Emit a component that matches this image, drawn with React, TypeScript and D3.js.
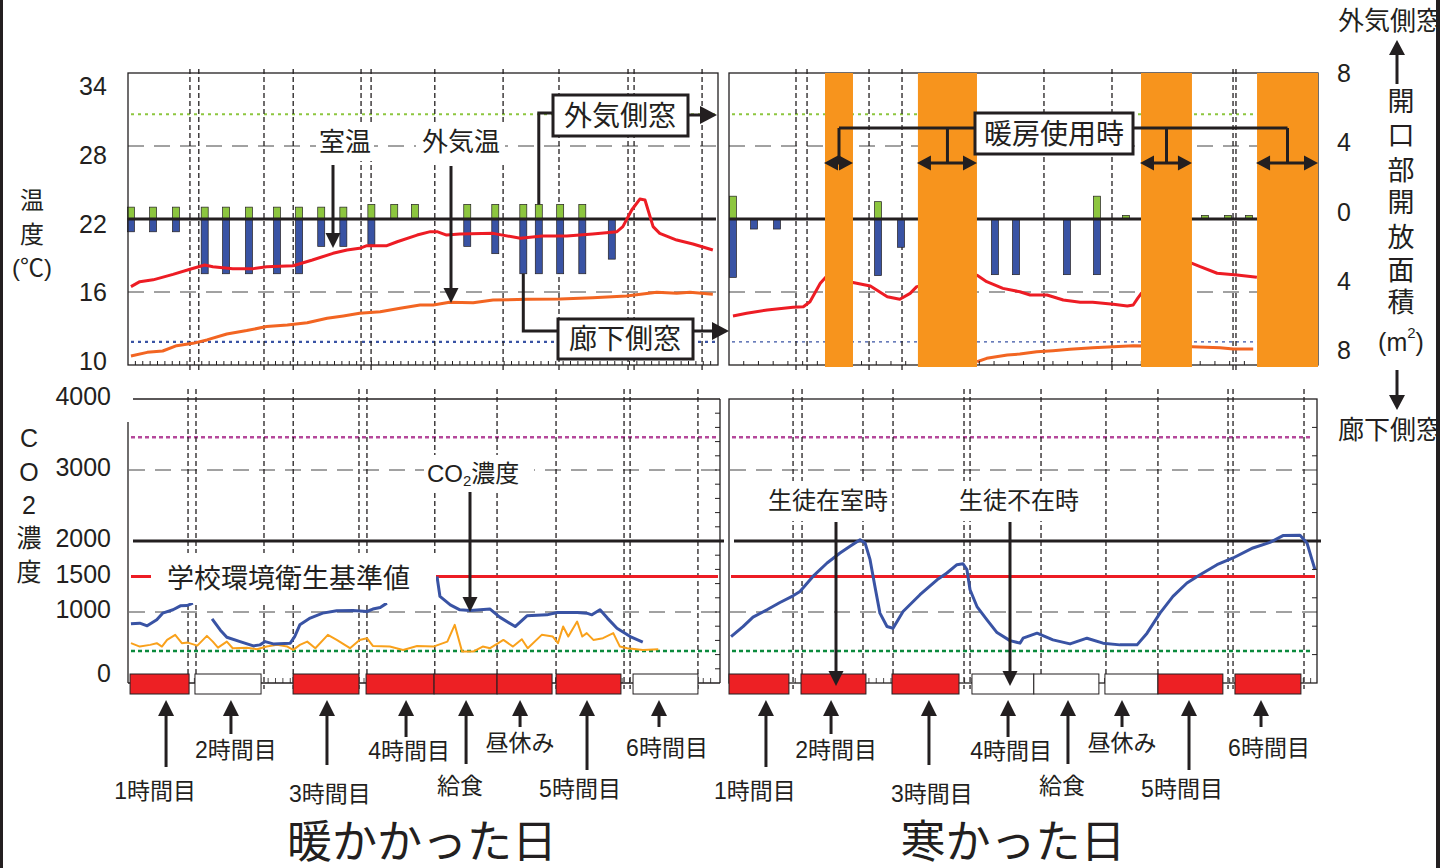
import React from 'react';
import * as d3 from 'd3';

const FONT = "'Liberation Sans', 'Noto Sans CJK JP', sans-serif";
const INK = '#231f20';

const C_ROOM = '#ed1c24';
const C_OUT = '#f26522';
const C_OUTER_WIN = '#8dc63f';
const C_CORR_WIN = '#3953a4';
const C_HEAT = '#f7941d';
const C_CO2 = '#3953a4';
const C_CO2_SUB = '#f9a11b';
const C_CLASS = '#ed2024';

// Time axis: minutes from the start of the recorded school day
const TIME_DOMAIN = [0, 400];

// ---------- axis ticks ----------
const tempTicks = [34, 28, 22, 16, 10];
const tempGrid = [28, 16];
const tempRefHigh = 30.6;
const tempRefLow = 11.9;
const areaTicks = [8, 4, 0, -4, -8];
const co2Ticks = [4000, 3000, 2000, 1500, 1000, 0];
const co2DashedGrid = [3000, 1000];
const co2Upper = 3460;
const co2Limit = 2000;
const co2Standard = 1500;
const co2Outdoor = 450;

const periodNames = ['1時間目', '2時間目', '3時間目', '4時間目', '給食', '昼休み', '5時間目', '6時間目'];

// ---------- warm day ----------
const warmRoomTemp = [
  [2, 16.44], [8, 16.85], [17, 17.0], [30.5, 17.45], [42, 17.87], [52, 18.22], [57.5, 18.08], [71, 17.92],
  [85, 17.92], [94, 18.08], [112, 18.16], [125, 18.63], [139, 19.18], [148.5, 19.45], [157, 19.59], [162, 19.81],
  [175.5, 19.81], [182.5, 20.13], [196, 20.68], [205, 20.96], [209.5, 20.96], [216, 20.68], [225, 20.77],
  [247.5, 20.82], [266, 20.41], [281, 20.6], [297.5, 20.6], [315, 20.77], [331.5, 20.96], [335.5, 21.37],
  [341.5, 22.74], [347, 23.64], [350.5, 23.56], [356, 21.37], [360.5, 20.82], [372, 20.27], [383, 19.95], [396.5, 19.45],
];
const warmOutdoorTemp = [
  [2, 10.74], [13, 11.04], [23.5, 11.15], [33, 11.59], [44, 11.78], [53.5, 12.06], [67, 12.55], [80.5, 12.83],
  [94, 13.16], [108, 13.29], [121.5, 13.47], [135, 13.84], [146, 14.03], [157, 14.25], [171, 14.38], [184.5, 14.66],
  [198, 14.93], [207, 14.93], [218, 15.15], [234, 15.12], [247.5, 15.34], [270.5, 15.4], [293, 15.42], [315, 15.53],
  [338, 15.67], [358.5, 15.98], [372, 15.89], [381, 15.98], [396.5, 15.81],
];
const warmBarTimes = [2, 17, 32.5, 52, 66.5, 82, 101, 116, 131, 146, 165, 180.5, 194.5, 230, 249, 268, 278.5, 293, 308, 328];
const warmOuterWindow = [0.65, 0.65, 0.65, 0.65, 0.65, 0.65, 0.65, 0.65, 0.65, 0.65, 0.8, 0.8, 0.8, 0.8, 0.8, 0.8, 0.8, 0.8, 0.8, 0];
const warmCorridorWindow = [0.7, 0.7, 0.7, 3.0, 3.0, 3.0, 3.0, 3.0, 1.5, 1.5, 1.4, 0, 0, 1.5, 1.9, 3.0, 3.0, 3.0, 3.0, 2.2];
const warmTempMarkers = [42, 48, 92.2, 112, 158, 164.8, 208, 254.3, 292.2, 339, 343.1, 389.2];

const warmCO2 = [
  [2, 833], [8, 843], [13, 805], [19.5, 890], [23.5, 984], [30.5, 1031], [35.5, 1087], [40, 1091], [44, 1125],
  [50, null],
  [57, 904], [62.5, 748], [67, 645], [76, 583], [85, 522], [89.5, 537], [93, 583], [98.5, 551], [110, 561],
  [113, 654], [116.5, 819], [123.5, 914], [132, 984], [141.5, 1017], [152.5, 1021], [162, 1007], [166, 1041],
  [171, 1063], [175.5, 1125],
  [190, null],
  [209.5, 1501], [211.5, 1219], [218.5, 1101], [225, 1031], [232, 1021], [245.5, 1041], [252, 928], [262.5, 795],
  [270.5, 946], [284, 960], [291, 993], [304.5, 993], [311, 984], [314.5, 960], [320, 1031], [325, 914],
  [331.5, 772], [340.5, 654], [349, 575],
];
const warmCO2Sub = [
  [2, 561], [8, 513], [15, 537], [19.5, 561], [23, 513], [26.5, 607], [32, 678], [36.5, 561], [40.5, 569], [47, 527],
  [53.5, 664], [57.5, 583], [61, 498], [67, 583], [71, 490], [80.5, 498], [87.5, 476], [94, 513], [101, 537],
  [108, 513], [112, 466], [116.5, 537], [121.5, 583], [127, 490], [135.5, 678], [141.5, 607], [150.5, 490],
  [157, 607], [162, 631], [166, 522], [177.5, 513], [186.5, 466], [196, 522], [207, 513], [216.5, 583],
  [221.5, 819], [226.5, 442], [234, 442], [240.5, 513], [245.5, 490], [251, 561], [254.5, 607], [261, 513],
  [267, 617], [271, 490], [280.5, 678], [288, 654], [291.5, 561], [295, 795], [298.5, 654], [304.5, 866],
  [308, 654], [311, 702], [315.5, 607], [322, 631], [329, 702], [333.5, 513], [338.5, 490], [349, 466], [359.5, 476],
];
const warmCO2Markers = [40.7, 46.1, 92.2, 112, 156.6, 162, 208, 250.2, 290.2, 336.3, 340.4, 386.4];
const warmPeriods = [
  { start: 1.4, end: 41.4, occupied: true },
  { start: 45.4, end: 90.2, occupied: false },
  { start: 111.9, end: 156.6, occupied: true },
  { start: 161.4, end: 207.5, occupied: true },
  { start: 207.5, end: 250.2, occupied: true },
  { start: 250.2, end: 287.5, occupied: true },
  { start: 290.2, end: 334.2, occupied: true },
  { start: 342.4, end: 386.4, occupied: false },
];
const warmLabelTimes = [25.8, 69.8, 134.9, 188.5, 229.2, 265.8, 311.2, 360];

// ---------- cold day ----------
const coldRoomTemp = [
  [2.7, 14.03], [12, 14.25], [26, 14.52], [43.5, 14.74], [50.5, 14.79], [55, 15.2], [62, 16.72], [66, 17.26],
  [85, 16.76], [96, 16.49], [107.5, 15.61], [116, 15.4], [123, 15.89], [127.5, 16.44], [168.5, 17.37], [175, 16.85],
  [186, 16.3], [197.5, 16.02], [204.5, 15.75], [216, 15.75], [227, 15.34], [238.5, 15.15], [247, 15.15],
  [261, 14.99], [270.5, 14.85], [274.5, 14.93], [277.5, 15.48], [280, 15.89], [314.5, 18.36], [320, 18.08],
  [331.5, 17.54], [345, 17.4], [358.5, 17.21],
];
const coldOutdoorTemp = [
  [168.5, 10.27], [175, 10.55], [189, 10.82], [197.5, 10.9], [209, 11.09], [220, 11.18], [231.5, 11.29],
  [247, 11.42], [261, 11.5], [274.5, 11.59], [314.5, 11.5], [333.5, 11.42], [342.5, 11.32], [356, 11.32],
];
const coldBarTimes = [2.7, 17, 32.6, 101.2, 116.8, 180.6, 194.9, 229.5, 249.9, 269.6, 323.3, 338.9, 353.1];
const coldOuterWindow = [1.25, 0, 0, 0.95, 0, 0, 0, 0, 1.25, 0.2, 0.2, 0.2, 0.2];
const coldCorridorWindow = [3.2, 0.55, 0.55, 3.1, 1.55, 3.05, 3.05, 3.05, 3.05, 0, 0, 0, 0];
const coldHeating = [[65.2, 84.2], [128.3, 168.4], [279.8, 314.4], [358.6, 400]];
const coldTempMarkers = [45.5, 53, 95.1, 117.5, 213.9, 260.1, 342.3, 344.3];

const coldCO2 = [
  [1.4, 654], [9.5, 795], [16.3, 928], [25.8, 1031], [34.6, 1134], [43.5, 1228], [48.2, 1289], [57, 1501],
  [66.6, 1690], [75.4, 1831], [82.2, 1925], [89, 2019], [92.4, 1973], [95.8, 1737], [99.1, 1360], [102.5, 984],
  [107.3, 795], [111.4, 772], [118.2, 1007], [129.7, 1243], [141.3, 1454], [148, 1549], [154.8, 1666],
  [158.9, 1680], [161.6, 1596], [163.7, 1313], [168.4, 1077], [175.2, 890], [182, 710], [190.8, 597],
  [197.6, 561], [199.7, 631], [209.2, 702], [220, 607], [231.6, 551], [243.1, 631], [254, 561], [265.5, 537],
  [277.1, 537], [283.9, 702], [292.7, 984], [301.5, 1219], [311, 1408], [319.9, 1525], [331.4, 1666],
  [342.3, 1761], [355.8, 1902], [367.4, 1981], [376.2, 2076], [387.8, 2080], [392.5, 1973], [395.9, 1737], [398, 1596],
];
const coldCO2Markers = [43.5, 49.6, 91, 111.4, 159.6, 163.7, 211.9, 256, 291.3, 338.9, 342.3, 390.5];
const coldPeriods = [
  { start: 0, end: 40.7, occupied: true },
  { start: 48.9, end: 93, occupied: true },
  { start: 110.7, end: 156.2, occupied: true },
  { start: 165, end: 207, occupied: false },
  { start: 207, end: 251.2, occupied: false },
  { start: 255.3, end: 291.3, occupied: false },
  { start: 291.3, end: 335.4, occupied: true },
  { start: 343.6, end: 388.4, occupied: true },
];
const coldLabelTimes = [25.1, 69.3, 135.8, 189.5, 230.2, 266.9, 312.4, 361.3];

// ---------- layout ----------
const TEMP_TOP = 73;
const TEMP_BOTTOM = 365;
const CO2_TOP = 399;
const CO2_BOTTOM = 683;
// [arrow tail y, label centre y, label x offset] for each period label
const labelLayout = [
  [767, 791, -11], [734, 750, 5], [765, 794, 3], [737, 751, 3],
  [764, 786, -6], [727, 743, 0], [770, 789, -7], [727, 748, 8],
];

const yTemp = d3.scaleLinear().domain([10, 34]).range([TEMP_BOTTOM, TEMP_TOP]);
const yArea = d3.scaleLinear().domain([-8, 8]).range([TEMP_BOTTOM, TEMP_TOP]);
const yCO2 = d3.scaleLinear().domain([0, 4000]).range([CO2_BOTTOM, CO2_TOP]);
const xWarm = d3.scaleLinear().domain(TIME_DOMAIN).range([128, 718]);
const xCold = d3.scaleLinear().domain(TIME_DOMAIN).range([729, 1318]);
const tempLabelY = d3.scaleLinear().domain([34, 10]).range([86, 361]);
const areaLabelY = d3.scaleLinear().domain([8, -8]).range([73, 350]);

function Arrow({ x1, y1, x2, y2, width = 3, head = 15, half = 7.5, color = INK }: any) {
  const dx = x2 - x1;
  const dy = y2 - y1;
  const len = Math.hypot(dx, dy);
  const ux = dx / len;
  const uy = dy / len;
  const bx = x2 - ux * head;
  const by = y2 - uy * head;
  const px = -uy * half;
  const py = ux * half;
  return (
    <g>
      <line x1={x1} y1={y1} x2={bx + ux} y2={by + uy} stroke={color} strokeWidth={width} />
      <polygon points={`${x2},${y2} ${bx + px},${by + py} ${bx - px},${by - py}`} fill={color} />
    </g>
  );
}

function DoubleArrow({ x1, x2, y, head = 14, half = 7.5 }: any) {
  return (
    <g>
      <line x1={x1 + head - 1} y1={y} x2={x2 - head + 1} y2={y} stroke={INK} strokeWidth={3} />
      <polygon points={`${x1},${y} ${x1 + head},${y - half} ${x1 + head},${y + half}`} fill={INK} />
      <polygon points={`${x2},${y} ${x2 - head},${y - half} ${x2 - head},${y + half}`} fill={INK} />
    </g>
  );
}

function Label({ x, y, text, size = 24, anchor = 'middle', bg }: any) {
  return (
    <g>
      {bg && <rect x={bg[0]} y={bg[1]} width={bg[2] - bg[0]} height={bg[3] - bg[1]} fill="#fff" />}
      <text x={x} y={y} fontSize={size} fontFamily={FONT} fill={INK} textAnchor={anchor} dominantBaseline="central">
        {text}
      </text>
    </g>
  );
}

function TempPanel({ x, x0, x1, markers, barTimes, outer, corridor, room, outdoor, heating, tickStep, lowRefWidth, id }: any) {
  const line = d3
    .line<any>()
    .x((d) => x(d[0]))
    .y((d) => yTemp(d[1]));
  const ticks = d3.range(TIME_DOMAIN[0] + tickStep, TIME_DOMAIN[1], tickStep);
  const barW = 7;
  return (
    <g>
      <defs>
        <clipPath id={id}>
          <rect x={x0} y={TEMP_TOP} width={x1 - x0} height={TEMP_BOTTOM - TEMP_TOP} />
        </clipPath>
      </defs>
      {tempGrid.map((t) => (
        <line key={t} x1={x0} x2={x1} y1={yTemp(t)} y2={yTemp(t)} stroke="#444" strokeWidth={1} strokeDasharray="16 10" />
      ))}
      <line x1={x0 + 3} x2={x1 - 3} y1={yTemp(tempRefHigh)} y2={yTemp(tempRefHigh)} stroke={C_OUTER_WIN} strokeWidth={2} strokeDasharray="3 4" />
      <line x1={x0 + 3} x2={x1 - 3} y1={yTemp(tempRefLow)} y2={yTemp(tempRefLow)} stroke={C_CORR_WIN} strokeWidth={lowRefWidth} strokeDasharray="3 4" />
      {markers.map((t: number, i: number) => (
        <line key={i} x1={x(t)} x2={x(t)} y1={TEMP_TOP - 4} y2={TEMP_BOTTOM + 6} stroke={INK} strokeWidth={1.3} strokeDasharray="5 3" />
      ))}
      {barTimes.map((t: number, i: number) => (
        <g key={i}>
          {outer[i] > 0 && (
            <rect x={x(t) - barW / 2} y={yArea(outer[i])} width={barW} height={yArea(0) - yArea(outer[i])} fill={C_OUTER_WIN} stroke={INK} strokeWidth={0.7} />
          )}
          {corridor[i] > 0 && (
            <rect x={x(t) - barW / 2} y={yArea(0)} width={barW} height={yArea(-corridor[i]) - yArea(0)} fill={C_CORR_WIN} stroke={INK} strokeWidth={0.7} />
          )}
        </g>
      ))}
      <line x1={x0} x2={x1 - 2} y1={yArea(0)} y2={yArea(0)} stroke={INK} strokeWidth={3} />
      <g clipPath={`url(#${id})`}>
        <path d={line(outdoor) || ''} fill="none" stroke={C_OUT} strokeWidth={3} strokeLinejoin="round" />
        <path d={line(room) || ''} fill="none" stroke={C_ROOM} strokeWidth={3} strokeLinejoin="round" />
      </g>
      {ticks.map((t: number) => (
        <line key={t} x1={x(t)} x2={x(t)} y1={TEMP_BOTTOM} y2={TEMP_BOTTOM - 4} stroke={INK} strokeWidth={1} />
      ))}
      <rect x={x0} y={TEMP_TOP} width={x1 - x0} height={TEMP_BOTTOM - TEMP_TOP} fill="none" stroke={INK} strokeWidth={1.3} />
      {heating &&
        heating.map((h: number[], i: number) => (
          <rect key={i} x={x(h[0])} y={TEMP_TOP} width={x(h[1]) - x(h[0])} height={TEMP_BOTTOM + 2 - TEMP_TOP} fill={C_HEAT} />
        ))}
    </g>
  );
}

function CO2Panel({ x, x0, x1, markers, co2, sub, periods, rightTickStep, openLeftTop }: any) {
  const line = d3
    .line<any>()
    .defined((d) => d[1] != null)
    .x((d) => x(d[0]))
    .y((d) => yCO2(d[1]));
  const combTicks = d3.range(5, 400, 5);
  const rightTicks = d3.range(rightTickStep, 4000, rightTickStep);
  return (
    <g>
      {co2DashedGrid.map((v) => (
        <line key={v} x1={x0 + 1} x2={x1} y1={yCO2(v)} y2={yCO2(v)} stroke="#444" strokeWidth={1} strokeDasharray="16 10" />
      ))}
      <line x1={x0 + 3} x2={x1 - 4} y1={yCO2(co2Upper)} y2={yCO2(co2Upper)} stroke="#b5489b" strokeWidth={2.5} strokeDasharray="4 3" />
      <line x1={x0 + 3} x2={x1 - 4} y1={yCO2(co2Outdoor)} y2={yCO2(co2Outdoor)} stroke="#0b8a3d" strokeWidth={2.5} strokeDasharray="4 3" />
      {markers.map((t: number, i: number) => (
        <line key={i} x1={x(t)} x2={x(t)} y1={CO2_TOP - 10} y2={CO2_BOTTOM + 6} stroke={INK} strokeWidth={1.3} strokeDasharray="5 3" />
      ))}
      <line x1={x0 + 2} x2={x1 - 2} y1={yCO2(co2Standard)} y2={yCO2(co2Standard)} stroke={C_ROOM} strokeWidth={3} />
      <line x1={x0 + 5} x2={x1 + 4} y1={yCO2(co2Limit)} y2={yCO2(co2Limit)} stroke={INK} strokeWidth={3} />
      {sub && <path d={line(sub) || ''} fill="none" stroke={C_CO2_SUB} strokeWidth={2} strokeLinejoin="round" />}
      <path d={line(co2) || ''} fill="none" stroke={C_CO2} strokeWidth={3} strokeLinejoin="round" />
      {combTicks.map((t: number) => (
        <line key={t} x1={x(t)} x2={x(t)} y1={CO2_BOTTOM} y2={CO2_BOTTOM - 5} stroke={INK} strokeWidth={0.8} />
      ))}
      {rightTicks.map((v: number) => (
        <line key={v} x1={x1 - 5} x2={x1} y1={yCO2(v)} y2={yCO2(v)} stroke={INK} strokeWidth={1} />
      ))}
      {openLeftTop ? (
        <g stroke={INK} strokeWidth={1.3} fill="none">
          <line x1={x0 + 5} x2={x1} y1={CO2_TOP} y2={CO2_TOP} />
          <line x1={x1} x2={x1} y1={CO2_TOP} y2={CO2_BOTTOM} />
          <line x1={x0} x2={x0} y1={CO2_TOP + 23} y2={CO2_BOTTOM} />
          <line x1={x0} x2={x1} y1={CO2_BOTTOM} y2={CO2_BOTTOM} />
        </g>
      ) : (
        <rect x={x0} y={CO2_TOP} width={x1 - x0} height={CO2_BOTTOM - CO2_TOP} fill="none" stroke={INK} strokeWidth={1.3} />
      )}
      {periods.map((p: any, i: number) => (
        <rect key={i} x={x(p.start)} y={674} width={x(p.end) - x(p.start)} height={20} fill={p.occupied ? C_CLASS : '#fff'} stroke={INK} strokeWidth={1} />
      ))}
    </g>
  );
}

function PeriodLabels({ x, times }: any) {
  return (
    <g>
      {times.map((t: number, i: number) => {
        const [tail, ly, dx] = labelLayout[i];
        return (
          <g key={i}>
            <Arrow x1={x(t)} y1={tail} x2={x(t)} y2={700} width={3} head={16} half={8} />
            <Label x={x(t) + dx} y={ly} text={periodNames[i]} size={23} />
          </g>
        );
      })}
    </g>
  );
}

export default function App() {
  const heatCenters = coldHeating.map((h) => xCold((h[0] + h[1]) / 2));
  return (
    <svg width={1440} height={868} viewBox="0 0 1440 868" style={{ position: 'absolute', left: 0, top: 0, background: '#fff' }}>
      <rect x={0} y={0} width={1440} height={868} fill="#fff" />

      {/* temperature & window opening panels */}
      <TempPanel
        x={xWarm} x0={128} x1={718} id="clipWarm" markers={warmTempMarkers}
        barTimes={warmBarTimes} outer={warmOuterWindow} corridor={warmCorridorWindow}
        room={warmRoomTemp} outdoor={warmOutdoorTemp} tickStep={5} lowRefWidth={2.2}
      />
      <TempPanel
        x={xCold} x0={729} x1={1318} id="clipCold" markers={coldTempMarkers}
        barTimes={coldBarTimes} outer={coldOuterWindow} corridor={coldCorridorWindow}
        room={coldRoomTemp} outdoor={coldOutdoorTemp} heating={coldHeating} tickStep={10} lowRefWidth={1.2}
      />

      {/* CO2 panels */}
      <CO2Panel x={xWarm} x0={128} x1={720} markers={warmCO2Markers} co2={warmCO2} sub={warmCO2Sub} periods={warmPeriods} rightTickStep={200} openLeftTop />
      <CO2Panel x={xCold} x0={729} x1={1317} markers={coldCO2Markers} co2={coldCO2} periods={coldPeriods} rightTickStep={400} />

      {/* legend for the school standard */}
      <rect x={130} y={553} width={306} height={50} fill="#fff" />
      <line x1={131} x2={151} y1={yCO2(co2Standard)} y2={yCO2(co2Standard)} stroke={C_ROOM} strokeWidth={3} />
      <Label x={167} y={579} text="学校環境衛生基準値" size={27} anchor="start" />

      {/* temperature annotations */}
      <Label x={345} y={142} text="室温" size={26} bg={[316, 124, 374, 161]} />
      <Arrow x1={333} y1={165} x2={333} y2={248} />
      <Label x={461} y={142} text="外気温" size={26} bg={[416, 124, 505, 163]} />
      <Arrow x1={451} y1={166} x2={451} y2={303} />

      {/* window callouts */}
      <polyline
        points={`${xWarm(278.5)},${yArea(0.8)} ${xWarm(278.5)},113 553,113`}
        fill="none" stroke={INK} strokeWidth={3}
      />
      <rect x={553} y={95} width={135} height={41} fill="#fff" stroke={INK} strokeWidth={3} />
      <Label x={620} y={116} text="外気側窓" size={28} />
      <Arrow x1={688} y1={115} x2={717} y2={115} head={17} half={9} />

      <polyline
        points={`${xWarm(268)},${yArea(-3)} ${xWarm(268)},331 558,331`}
        fill="none" stroke={INK} strokeWidth={3}
      />
      <rect x={558} y={319} width={135} height={40} fill="#fff" stroke={INK} strokeWidth={3} />
      <Label x={625} y={339} text="廊下側窓" size={28} />
      <Arrow x1={693} y1={331} x2={729} y2={331} head={17} half={9} />

      {/* heating callout */}
      <line x1={heatCenters[0]} x2={heatCenters[3]} y1={128} y2={128} stroke={INK} strokeWidth={3} />
      {heatCenters.map((cx, i) => (
        <line key={i} x1={cx} x2={cx} y1={128} y2={163} stroke={INK} strokeWidth={3} />
      ))}
      {coldHeating.map((h, i) => (
        <DoubleArrow key={i} x1={xCold(h[0]) - 1} x2={Math.min(xCold(h[1]), 1318)} y={163} />
      ))}
      <rect x={975} y={113} width={158} height={41} fill="#fff" stroke={INK} strokeWidth={3} />
      <Label x={1054} y={134} text="暖房使用時" size={28} />

      {/* CO2 annotations */}
      <rect x={424} y={455} width={110} height={38} fill="#fff" />
      <text x={427} y={473} fontSize={24} fontFamily={FONT} fill={INK} dominantBaseline="central">
        CO<tspan fontSize={15} dy={7}>2</tspan>
        <tspan dy={-7}>濃度</tspan>
      </text>
      <Arrow x1={470} y1={492} x2={470} y2={612} />
      <Label x={828} y={500} text="生徒在室時" size={24} bg={[764, 481, 892, 521]} />
      <Arrow x1={836} y1={522} x2={836} y2={686} />
      <Label x={1019} y={500} text="生徒不在時" size={24} bg={[955, 481, 1083, 521]} />
      <Arrow x1={1010} y1={522} x2={1010} y2={686} />

      {/* left temperature axis */}
      {tempTicks.map((t) => (
        <Label key={t} x={93} y={tempLabelY(t)} text={String(t)} size={25} />
      ))}
      <Label x={32} y={200} text="温" size={24} />
      <Label x={32} y={234} text="度" size={24} />
      <Label x={32} y={267} text="(℃)" size={24} />

      {/* right window-area axis */}
      {areaTicks.map((v, i) => (
        <Label key={i} x={1344} y={areaLabelY(v)} text={String(Math.abs(v))} size={25} />
      ))}
      <Label x={1338} y={21} text="外気側窓" size={26} anchor="start" />
      <Arrow x1={1397} y1={84} x2={1397} y2={40} width={3} head={15} half={8} />
      {['開', '口', '部', '開', '放', '面', '積'].map((c, i) => (
        <Label key={i} x={1401} y={[102, 136, 171, 203, 238, 271, 303][i]} text={c} size={27} />
      ))}
      <text x={1401} y={342} fontSize={25} fontFamily={FONT} fill={INK} textAnchor="middle" dominantBaseline="central">
        (m<tspan fontSize={15} dy={-10}>2</tspan>
        <tspan dy={10}>)</tspan>
      </text>
      <Arrow x1={1397} y1={370} x2={1397} y2={410} width={3} head={15} half={8} />
      <Label x={1338} y={430} text="廊下側窓" size={26} anchor="start" />

      {/* left CO2 axis */}
      {co2Ticks.map((v) => (
        <Label key={v} x={111} y={yCO2(v) - (v === 0 ? 10 : 3)} text={String(v)} size={25} anchor="end" />
      ))}
      {['C', 'O', '2', '濃', '度'].map((c, i) => (
        <Label key={i} x={29} y={[438, 472, 505, 538, 572][i]} text={c} size={25} />
      ))}

      {/* school period labels */}
      <PeriodLabels x={xWarm} times={warmLabelTimes} />
      <PeriodLabels x={xCold} times={coldLabelTimes} />

      {/* day titles */}
      <Label x={422} y={842} text="暖かかった日" size={45} />
      <Label x={1013} y={842} text="寒かった日" size={45} />

      {/* outer border */}
      <rect x={0} y={0} width={3} height={868} fill={INK} />
      <rect x={1436} y={0} width={4} height={868} fill={INK} />
    </svg>
  );
}
